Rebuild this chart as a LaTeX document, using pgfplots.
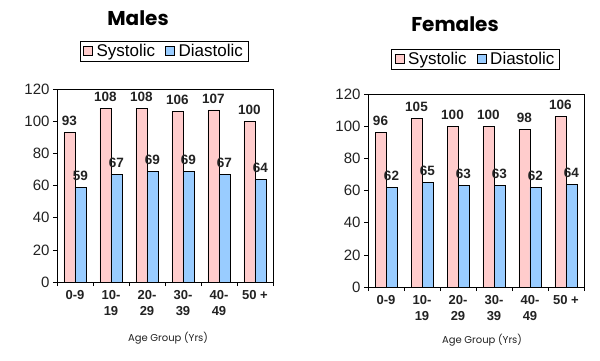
\documentclass[border=0pt]{standalone}
\usepackage{pgfplots}
\pgfplotsset{compat=1.18}
\usepackage{fontspec}
\setmainfont{Liberation Sans}
\newfontfamily\titlefont{Poppins}
\definecolor{sys}{HTML}{FFCCCC}
\definecolor{dia}{HTML}{99CCFF}
\definecolor{txt}{HTML}{222222}
\pgfplotsset{bpstyle/.style={
  anchor=south west, scale only axis, width=216pt, height=193pt,
  ybar=0pt, bar width=11pt,
  xmin=-0.5, xmax=5.5, ymin=0, ymax=120,
  ytick={0,20,...,120},
  xtick={-0.5,0.5,1.5,2.5,3.5,4.5,5.5}, xticklabels={},
  extra x ticks={0,1,2,3,4,5},
  extra x tick labels={0-9,{10-\\19},{20-\\29},{30-\\39},{40-\\49},50 +},
  extra x tick style={major tick length=0pt, xticklabel style={align=center, font=\bfseries\fontsize{13}{16}\selectfont, text=txt, yshift=-5pt}},
  tick pos=left, tick align=outside, major tick length=4pt,
  tick style={black, line width=0.6pt},
  axis line style={line width=0.6pt},
  /pgf/number format/assume math mode=true,
  yticklabel style={font=\fontsize{15}{17}\selectfont, text=txt},
  nodes near coords,
  nodes near coords style={font=\bfseries\fontsize{13.5}{15}\selectfont, text=txt, yshift=3pt},
  legend columns=2,
  legend style={anchor=center, font=\fontsize{17}{19}\selectfont, draw=black, line width=0.6pt,
    inner xsep=3pt, inner ysep=1pt,
    /tikz/every odd column/.append style={column sep=2pt},
    /tikz/every even column/.append style={column sep=8pt}},
  legend image code/.code={\draw[#1, line width=0.5pt] (0pt,-4pt) rectangle (9pt,5pt);},
}}
\begin{document}
\begin{tikzpicture}
\path[fill=white] (0,0) rectangle (600pt,360pt);
\begin{axis}[bpstyle, at={(57pt,78pt)}, legend style={at={(0.495,1.194)}}]
\addplot[fill=sys, draw=black, line width=0.5pt] coordinates {(0,93) (1,108) (2,108) (3,106) (4,107) (5,100)};
\addplot[fill=dia, draw=black, line width=0.5pt] coordinates {(0,59) (1,67) (2,69) (3,69) (4,67) (5,64)};
\legend{Systolic,Diastolic}
\end{axis}
\begin{axis}[bpstyle, at={(368pt,73pt)}, legend style={at={(0.498,1.181)}}]
\addplot[fill=sys, draw=black, line width=0.5pt] coordinates {(0,96) (1,105) (2,100) (3,100) (4,98) (5,106)};
\addplot[fill=dia, draw=black, line width=0.5pt] coordinates {(0,62) (1,65) (2,63) (3,63) (4,62) (5,64)};
\legend{Systolic,Diastolic}
\end{axis}
\node[font=\titlefont\bfseries\fontsize{20}{22}\selectfont] at (138pt,342pt) {Males};
\node[font=\titlefont\bfseries\fontsize{20}{22}\selectfont] at (455pt,336pt) {Females};
\node[font=\titlefont\fontsize{10}{12}\selectfont, text=txt] at (168pt,22pt) {Age Group (Yrs)};
\node[font=\titlefont\fontsize{10}{12}\selectfont, text=txt] at (482pt,20pt) {Age Group (Yrs)};
\end{tikzpicture}
\end{document}
